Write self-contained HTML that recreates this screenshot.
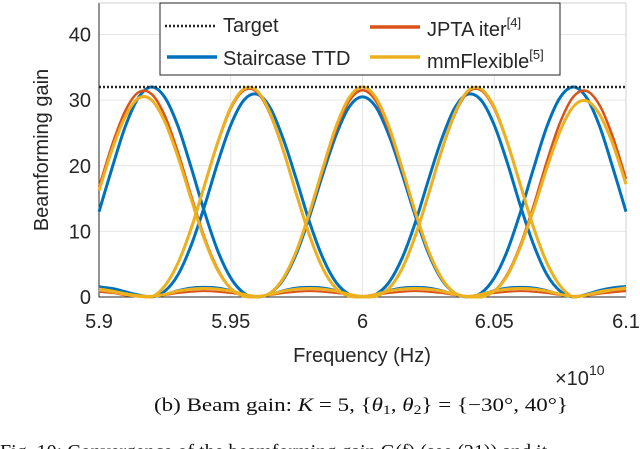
<!DOCTYPE html>
<html><head><meta charset="utf-8"><style>
html,body{margin:0;padding:0;background:#fff;width:640px;height:449px;overflow:hidden}
svg text{font-family:"Liberation Sans",sans-serif;fill:#262626}
</style></head><body>
<svg id="chart" width="640" height="449" viewBox="0 0 640 449">
<g id="grid"></g>
<g id="axes"></g>
<g id="series"></g>
<g id="legend">
 <rect x="160" y="3" width="400" height="72" fill="#fff" stroke="#262626" stroke-width="1"/>
 <g><line x1="165" y1="26" x2="215" y2="26" stroke="#262626" stroke-width="2.5" stroke-dasharray="2,2"/><text x="223" y="32" font-size="20">Target</text></g>
 <g><line x1="370" y1="27" x2="420" y2="27" stroke="#D95319" stroke-width="3.5"/><text x="427" y="36" font-size="20">JPTA iter<tspan font-size="13" dy="-9">[4]</tspan></text></g>
 <g><line x1="167" y1="57" x2="217" y2="57" stroke="#0072BD" stroke-width="3.5"/><text x="223" y="65" font-size="20">Staircase TTD</text></g>
 <g><line x1="370" y1="57" x2="420" y2="57" stroke="#EDB120" stroke-width="3.5"/><text x="427" y="68" font-size="20">mmFlexible<tspan font-size="13" dy="-9">[5]</tspan></text></g>
</g>
<text x="362" y="362" font-size="20" text-anchor="middle">Frequency (Hz)</text>
<text x="555" y="385" font-size="20">×10<tspan font-size="14" dy="-10">10</tspan></text>
<text transform="translate(48,150) rotate(-90)" font-size="20" text-anchor="middle">Beamforming gain</text>
<text x="154" y="411" font-size="19" textLength="414" lengthAdjust="spacingAndGlyphs" style="font-family:'Liberation Serif',serif;fill:#111">(b) Beam gain: <tspan font-style="italic">K</tspan> = 5, {<tspan font-style="italic">θ</tspan><tspan font-size="13" dy="3">1</tspan><tspan dy="-3">, </tspan><tspan font-style="italic">θ</tspan><tspan font-size="13" dy="3">2</tspan><tspan dy="-3">} = {−30°, 40°}</tspan></text>
<text x="0" y="458" font-size="20" style="font-family:'Liberation Serif',serif;fill:#111">Fig. 10:  Convergence of the beamforming gain  G(f) (see (21)) and it</text>
</svg>
<script>
const freqStart = 5.9, freqStep = 0.005;
const xTicks = [5.9, 5.95, 6, 6.05, 6.1];
const xTickLabels = ["5.9", "5.95", "6", "6.05", "6.1"];
const yTicks = [0, 10, 20, 30, 40];
const yTickLabels = ["0", "10", "20", "30", "40"];
const targetValue = 32;
const staircaseBeam1 = [13.0,19.7,26.0,30.4,32,30.4,26.0,19.7,13.0,7.1,2.9,0.6,0,0.6,2.7,6.7,12.4,18.8,24.7,29.0,30.5,29.0,24.7,18.8,12.4,6.7,2.7,0.6,0,0.6,2.9,7.1,13.0,19.7,26.0,30.4,32,30.4,26.0,19.7,13.0];
const staircaseBeam2 = [1.5,1.3,0.8,0.3,0,0.9,3.4,7.9,13.8,20.4,26.2,30.0,30.9,28.8,24.0,17.8,11.3,5.9,2.2,0.4,0,0.4,2.2,5.9,11.3,17.8,24.0,28.8,30.9,30.0,26.2,20.4,13.8,7.9,3.4,0.9,0,0.4,1.0,1.4,1.6];
const jptaBeam1 = [16.7,23.2,28.4,31.2,30.9,27.6,22.0,15.4,9.1,4.3,1.3,0.1,0,0.6,2.8,7.0,12.8,19.4,25.5,29.9,31.5,29.9,25.5,19.4,12.8,7.0,2.8,0.6,0,0,0.9,3.5,8.0,14.0,20.7,26.6,30.5,31.4,29.2,24.4,18.0];
const jptaBeam2 = [1.0,0.7,0.3,0.1,0,1.7,5.2,10.4,16.9,23.4,28.7,31.5,31.2,27.8,22.2,15.5,9.2,4.3,1.3,0.1,0,0.1,1.3,4.3,9.2,15.5,22.2,27.8,31.2,31.5,28.7,23.4,16.9,10.4,5.2,1.7,0,0.3,0.7,1.0,1.2];
const flexBeam1 = [16.2,22.5,27.5,30.3,30.0,26.7,21.3,14.9,8.8,4.1,1.3,0.1,0,0.6,2.9,7.1,13.0,19.7,26.0,30.4,32,30.4,26.0,19.7,13.0,7.1,2.9,0.6,0,0,0.9,3.3,7.7,13.4,19.7,25.3,29.0,29.9,27.8,23.3,17.2];
const flexBeam2 = [1.1,0.8,0.4,0.1,0,1.7,5.2,10.5,17.0,23.5,28.9,31.7,31.4,28.0,22.3,15.6,9.3,4.3,1.3,0.1,0,0.1,1.3,4.3,9.3,15.6,22.3,28.0,31.4,31.7,28.9,23.5,17.0,10.5,5.2,1.7,0,0.3,0.8,1.1,1.3];
const sideLobeA = [1.6,1.2,0.6,0.2,0,0.4,1.0,1.4,1.5,1.4,1.0,0.4,0,0.4,1.0,1.4,1.5,1.4,1.0,0.4,0,0.4,1.0,1.4,1.5,1.4,1.0,0.4,0,0.4,1.0,1.4,1.5,1.4,1.0,0.4,0,0.3,0.8,1.3,1.6];
const sideLobeB = [1.2,0.9,0.5,0.2,0.1,0.4,0.9,1.2,1.3,1.2,0.9,0.4,0.1,0.4,0.9,1.2,1.3,1.2,0.9,0.4,0.1,0.4,0.9,1.2,1.3,1.2,0.9,0.4,0.1,0.4,0.9,1.2,1.3,1.2,0.9,0.4,0.1,0.3,0.7,1.1,1.4];
const sideLobeC = [0.8,0.6,0.3,0.1,0.1,0.3,0.6,0.8,0.9,0.8,0.6,0.3,0.1,0.3,0.6,0.8,0.9,0.8,0.6,0.3,0.1,0.3,0.6,0.8,0.9,0.8,0.6,0.3,0.1,0.3,0.6,0.8,0.9,0.8,0.6,0.3,0.1,0.2,0.5,0.7,0.9];

const L=99,R=626,T=3,B=297,xMin=5.9,xMax=6.1,yMin=0,yMax=44.8;
const xs=v=>L+(v-xMin)/(xMax-xMin)*(R-L);
const ys=v=>B-(v-yMin)/(yMax-yMin)*(B-T);
const NS="http://www.w3.org/2000/svg";
function mk(tag,attrs,parent){const e=document.createElementNS(NS,tag);for(const k in attrs)e.setAttribute(k,attrs[k]);parent.appendChild(e);return e;}
const grid=document.getElementById('grid'),axes=document.getElementById('axes'),series=document.getElementById('series');
mk('rect',{x:L,y:T,width:R-L,height:B-T,fill:'#fff'},grid);
xTicks.forEach((t,i)=>{
 const g=mk('line',{x1:xs(t),x2:xs(t),y1:T,y2:B,stroke:'#e6e6e6','stroke-width':1},grid);
 
 
 const tx=mk('text',{x:xs(t),y:328,'font-size':20,'text-anchor':'middle'},axes);
 tx.textContent=xTickLabels[i];
 
 
});
yTicks.forEach((t,i)=>{
 const g=mk('line',{x1:L,x2:R,y1:ys(t),y2:ys(t),stroke:'#e6e6e6','stroke-width':1},grid);
 
 
 const tx=mk('text',{x:91,y:ys(t)+7,'font-size':20,'text-anchor':'end'},axes);
 tx.textContent=yTickLabels[i];
 
 
});
const box=mk('path',{d:`M${L},${T}V${B}H${R}`,fill:'none',stroke:'#262626','stroke-width':1},axes);


const box2=mk('path',{d:`M${L},${T}H${R}V${B}`,fill:'none',stroke:'#d0d0d0','stroke-width':1},axes);


function pathFor(vals){
 const p=vals.map((v,i)=>[xs(freqStart+i*freqStep),ys(v)]);
 let d=`M${p[0][0].toFixed(2)},${p[0][1].toFixed(2)}`;
 for(let i=0;i<p.length-1;i++){
  const p0=p[Math.max(0,i-1)],p1=p[i],p2=p[i+1],p3=p[Math.min(p.length-1,i+2)];
  const c1=[p1[0]+(p2[0]-p0[0])/6,p1[1]+(p2[1]-p0[1])/6],c2=[p2[0]-(p3[0]-p1[0])/6,p2[1]-(p3[1]-p1[1])/6];
  d+=`C${c1[0].toFixed(2)},${Math.min(B,c1[1]).toFixed(2)} ${c2[0].toFixed(2)},${Math.min(B,c2[1]).toFixed(2)} ${p2[0].toFixed(2)},${p2[1].toFixed(2)}`;
 }
 return d;
}
function draw(vals,color,w,name){
 const e=mk('path',{d:pathFor(vals),fill:'none',stroke:color,'stroke-width':w,'stroke-linejoin':'round'},series);
 
 
}
draw(sideLobeA,'#0072BD',2.5,'staircase-sidelobe');
draw(staircaseBeam1,'#0072BD',3,'staircase-beam1-line');
draw(staircaseBeam2,'#0072BD',3,'staircase-beam2-line');
draw(sideLobeC,'#D95319',2,'jpta-sidelobe');
draw(jptaBeam1,'#D95319',2.5,'jpta-beam1-line');
draw(jptaBeam2,'#D95319',2.5,'jpta-beam2-line');
draw(sideLobeB,'#EDB120',3,'mmflexible-sidelobe');
draw(flexBeam1,'#EDB120',3,'mmflexible-beam1-line');
draw(flexBeam2,'#EDB120',3,'mmflexible-beam2-line');
const tl=mk('line',{x1:L,x2:R,y1:ys(targetValue),y2:ys(targetValue),stroke:'#262626','stroke-width':2.5,'stroke-dasharray':'2,2'},series);


</script>
</body></html>
